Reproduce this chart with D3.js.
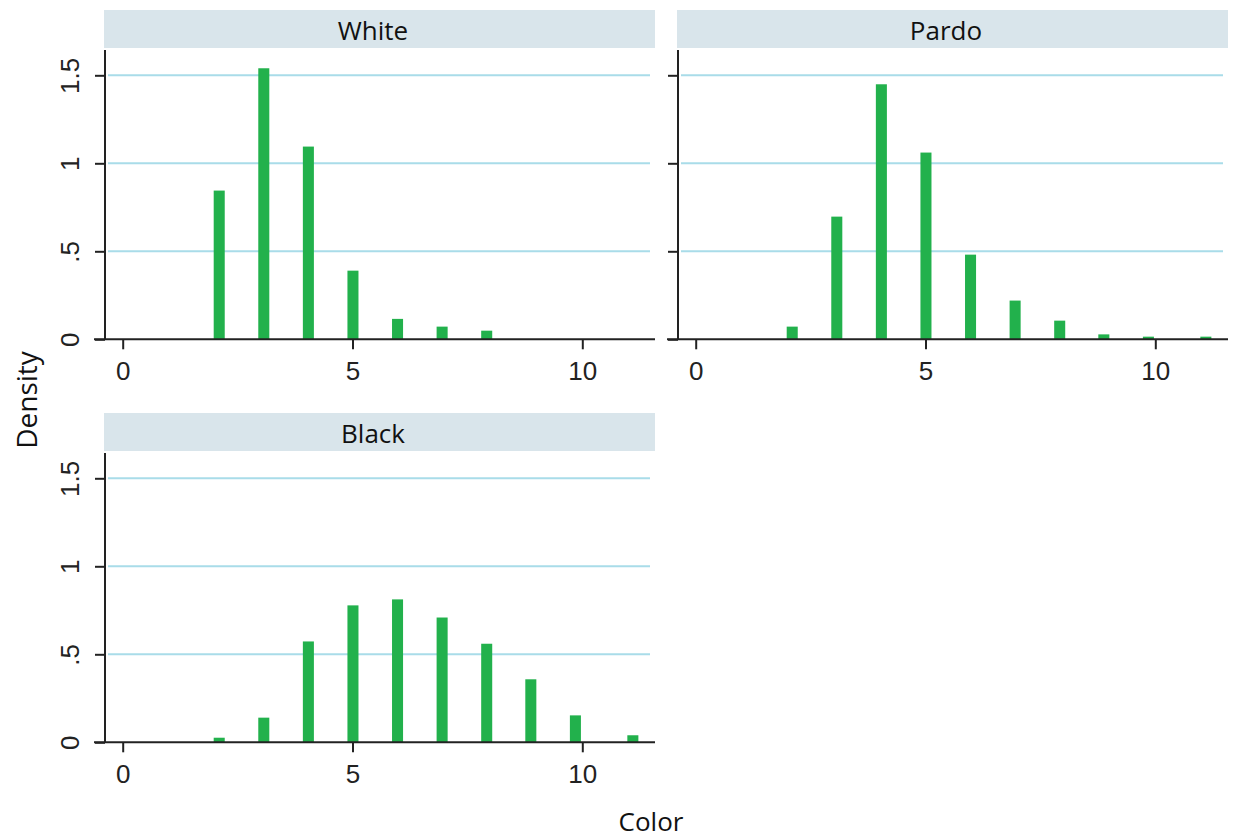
<!DOCTYPE html>
<html>
<head>
<meta charset="utf-8">
<script src="https://cdn.jsdelivr.net/npm/d3@7"></script>
<style>
  html, body { margin: 0; padding: 0; background: #fff; }
  svg { display: block; }
</style>
</head>
<body>
<svg id="chart" width="1238" height="840"></svg>
<script>
// ---- data ----
const panelNames = ["White", "Pardo", "Black"];
const binCenters = [2.1, 3.07, 4.04, 5.01, 5.98, 6.95, 7.92, 8.88, 9.85, 11.1];
const binWidth = 0.24;
const whiteDensity = [0.845, 1.54, 1.095, 0.39, 0.116, 0.072, 0.049];
const pardoDensity = [0.072, 0.697, 1.449, 1.061, 0.481, 0.22, 0.106, 0.028, 0.015, 0.015];
const blackDensity = [0.026, 0.14, 0.573, 0.778, 0.812, 0.709, 0.56, 0.358, 0.153, 0.04];
const yTicks = [0, 0.5, 1, 1.5];
const yTickLabels = ["0", ".5", "1", "1.5"];
const xTicks = [0, 5, 10];
const xTickLabels = ["0", "5", "10"];
const yTitle = "Density";
const xTitle = "Color";

const seriesByPanel = {
  White: whiteDensity,
  Pardo: pardoDensity,
  Black: blackDensity
};

// ---- layout ----
const svg = d3.select("#chart");
const panelLayout = {
  White: { dx: 0, dy: 0, yLabels: true },
  Pardo: { dx: 573, dy: 0, yLabels: false },
  Black: { dx: 0, dy: 403, yLabels: true }
};

const barColor = "#22b14c";
const gridColor = "#a9dce9";
const headerFill = "#d9e5eb";
const labelFont = "'Liberation Sans', Arial, sans-serif";
const titleFont = "'Open Sans', 'Noto Sans', sans-serif";

panelNames.forEach(name => {
  const L = panelLayout[name];
  const g = svg.append("g").attr("transform", `translate(${L.dx},${L.dy})`);

  const x = d3.scaleLinear().domain([0, 10]).range([122.7, 582.3]);
  const y = d3.scaleLinear().domain([0, 1.5]).range([339.3, 75.3]);

  const axisLeftX = 105;
  const plotTop = 50;
  const xAxisStart = 94;
  const xAxisEnd = 655;

  // header strip
  g.append("rect")
    .attr("x", 104).attr("y", 10)
    .attr("width", 551).attr("height", 38)
    .attr("fill", headerFill);
  g.append("text")
    .attr("x", 373).attr("y", 30)
    .attr("text-anchor", "middle")
    .attr("dominant-baseline", "central")
    .attr("font-family", titleFont)
    .attr("font-size", 26)
    .attr("fill", "#111")
    .text(name);

  // gridlines
  g.selectAll("line.grid")
    .data(yTicks.filter(d => d > 0))
    .join("line")
    .attr("class", "grid")
    .attr("x1", 108).attr("x2", 650)
    .attr("y1", d => y(d)).attr("y2", d => y(d))
    .attr("stroke", gridColor)
    .attr("stroke-width", 2);

  // bars
  const vals = seriesByPanel[name];
  g.selectAll("rect.bar")
    .data(vals.map((v, i) => ({ c: binCenters[i], v })))
    .join("rect")
    .attr("class", "bar")
    .attr("x", d => x(d.c - binWidth / 2))
    .attr("width", d => x(d.c + binWidth / 2) - x(d.c - binWidth / 2))
    .attr("y", d => y(d.v))
    .attr("height", d => y(0) - y(d.v))
    .attr("fill", barColor);

  // y axis
  const yAxis = d3.axisLeft(y)
    .tickValues(yTicks)
    .tickSize(10)
    .tickPadding(14)
    .tickFormat((d, i) => L.yLabels ? yTickLabels[i] : "");
  const ya = g.append("g")
    .attr("transform", `translate(${axisLeftX},0)`)
    .call(yAxis);
  ya.attr("font-size", null).attr("font-family", null);
  ya.select(".domain").remove();
  ya.append("line")
    .attr("x1", 0).attr("x2", 0)
    .attr("y1", plotTop).attr("y2", y(0))
    .attr("stroke", "#222").attr("stroke-width", 2);
  ya.selectAll(".tick line").attr("stroke", "#222").attr("stroke-width", 2);
  ya.selectAll(".tick text")
    .style("font-family", labelFont)
    .style("font-size", "26px")
    .attr("fill", "#222")
    .attr("text-anchor", "middle")
    .attr("dy", null)
    .attr("dominant-baseline", "central")
    .attr("transform", "translate(-35,0) rotate(-90)")
    .attr("x", 0);

  // x axis
  const xAxis = d3.axisBottom(x)
    .tickValues(xTicks)
    .tickSize(10)
    .tickPadding(12)
    .tickFormat((d, i) => xTickLabels[i]);
  const xa = g.append("g")
    .attr("transform", `translate(0,${y(0)})`)
    .call(xAxis);
  xa.attr("font-size", null).attr("font-family", null);
  xa.select(".domain").remove();
  xa.append("line")
    .attr("x1", xAxisStart).attr("x2", xAxisEnd)
    .attr("y1", 0).attr("y2", 0)
    .attr("stroke", "#222").attr("stroke-width", 2);
  xa.selectAll(".tick line").attr("stroke", "#222").attr("stroke-width", 2);
  xa.selectAll(".tick text")
    .style("font-family", labelFont)
    .style("font-size", "26px")
    .attr("fill", "#222");
});

// axis titles
svg.append("text")
  .attr("transform", "translate(26,400) rotate(-90)")
  .attr("text-anchor", "middle")
  .attr("dominant-baseline", "central")
  .attr("font-family", titleFont)
  .attr("font-size", 28)
  .attr("fill", "#111")
  .text(yTitle);

svg.append("text")
  .attr("x", 651).attr("y", 831)
  .attr("text-anchor", "middle")
  .attr("font-family", titleFont)
  .attr("font-size", 26)
  .attr("fill", "#111")
  .text(xTitle);
</script>
</body>
</html>
